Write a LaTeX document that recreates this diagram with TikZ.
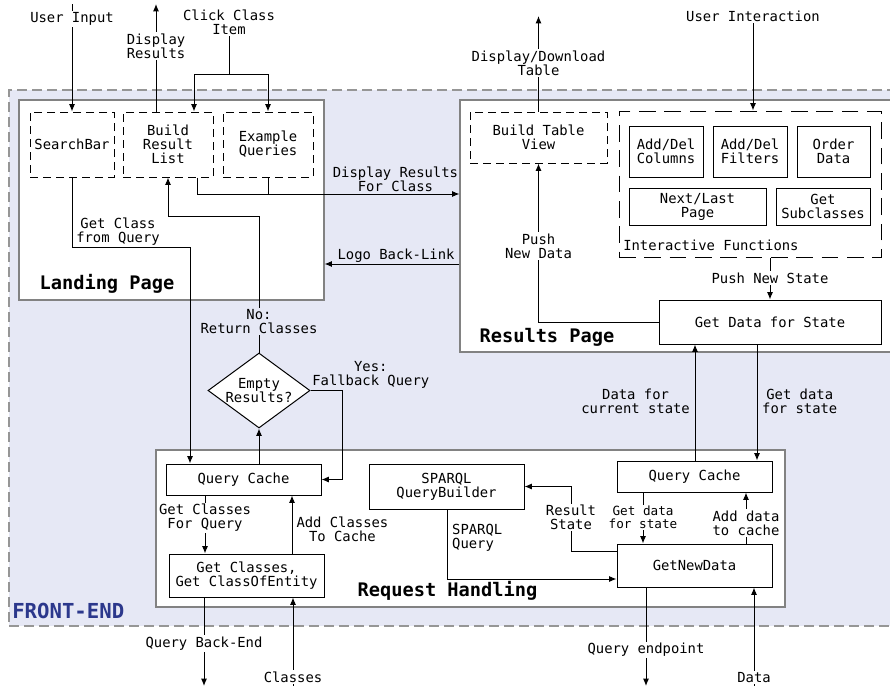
\documentclass[tikz,border=0pt]{standalone}
\usepackage{fontspec}
\setmainfont{DejaVu Sans Mono}
\setmonofont{DejaVu Sans Mono}
\usetikzlibrary{arrows.meta,shapes.geometric}

\definecolor{frontbg}{RGB}{230,232,245}
\definecolor{frontline}{RGB}{150,150,150}
\definecolor{secline}{RGB}{130,130,130}
\definecolor{frontblue}{RGB}{44,56,140}

\tikzset{
  px/.style 2 args={minimum width=#1*0.75pt, minimum height=#2*0.75pt},
  frontend/.style={draw=frontline, fill=frontbg, line width=0.8pt,
    dash pattern=on 7.5pt off 3.75pt, inner sep=0pt},
  section/.style={draw=secline, fill=white, line width=0.8pt, inner sep=0pt},
  box/.style={draw=black, fill=white, line width=0.75pt, inner sep=0pt, align=center},
  dbox/.style={box, dash pattern=on 6pt off 3.75pt},
  wide dbox/.style={box, dash pattern=on 12.5pt off 6.5pt},
  decision/.style={box, shape=diamond, aspect=1.36},
  wire/.style={draw=black, line width=0.75pt},
  conn/.style={wire, -{Latex[length=5.5pt,width=4.5pt]}},
  note/.style={inner sep=1pt, align=center},
  lbl/.style={note, fill=white},
  lblf/.style={note, fill=frontbg},
  title/.style={inner sep=0pt, font=\fontsize{14pt}{16pt}\selectfont\bfseries},
  fetitle/.style={inner sep=0pt, text=frontblue, font=\fontsize{15.5pt}{17pt}\selectfont\bfseries},
  small/.style={font=\fontsize{9.5pt}{10pt}\selectfont},
}

\begin{document}
\begin{tikzpicture}[x=0.75pt, y=-0.75pt, font=\fontsize{10.4pt}{10.5pt}\selectfont]
\useasboundingbox (0,0) rectangle (890,686);

% regions
\node[frontend, px={896}{536}] (frontend) at (457,358) {};
\node[section, px={305}{200}] (landing) at (171.5,200) {};
\node[section, px={440}{252}] (results) at (680,226) {};
\node[section, px={629}{157}] (request) at (470.5,528.5) {};

\node[title] (landingT) at (107,284) {Landing Page};
\node[title] (resultsT) at (547,337) {Results Page};
\node[title] (requestT) at (447.5,591) {Request Handling};
\node[fetitle, anchor=west] (feT) at (12,611) {FRONT-END};

% landing page components
\node[dbox, px={84}{65}] (search) at (72,144.5) {SearchBar};
\node[dbox, px={90}{65}] (build) at (168,144.5) {Build\\Result\\List};
\node[dbox, px={90}{65}] (examples) at (268,144.5) {Example\\Queries};

% results page components
\node[dbox, px={137}{51}] (btv) at (538.5,137.5) {Build Table\\View};
\node[wide dbox, px={262}{146}] (ifun) at (750,184) {};
\node[anchor=west, inner sep=0pt] (ifunT) at (623,245) {Interactive Functions};
\node[box, px={74}{51}] (addcol) at (666,151.5) {Add/Del\\Columns};
\node[box, px={74}{51}] (addfil) at (750,151.5) {Add/Del\\Filters};
\node[box, px={73}{51}] (order) at (833.5,151.5) {Order\\Data};
\node[box, px={137}{37}] (nextlast) at (697.5,206.5) {Next/Last\\Page};
\node[box, px={94}{37}] (getsub) at (823,206.5) {Get\\Subclasses};
\node[box, px={222}{44}] (gdfs) at (770,322) {Get Data for State};

% request handling components
\node[box, px={155}{31}] (qcA) at (243.5,479.5) {Query Cache};
\node[box, px={155}{43}] (getcl) at (246.5,575.5) {Get Classes,\\Get ClassOfEntity};
\node[box, px={155}{45}] (sparql) at (446.5,486.5) {SPARQL\\QueryBuilder};
\node[box, px={155}{31}] (qcB) at (694.5,476.5) {Query Cache};
\node[box, px={155}{43}] (gnd) at (694.5,565.5) {GetNewData};
\node[decision, px={102}{75}] (empty) at (259,390.5) {Empty\\Results?};

% inputs and outputs of the landing page
\coordinate (uiTop) at (72,4);
\draw[conn] (uiTop) -- node[lbl, pos=0.14] {User Input} (search.north);

\coordinate (drTop) at (156,4);
\draw[conn] (build.north -| drTop) -- node[lbl, pos=0.61] {Display\\Results} (drTop);

\node[note] (click) at (229,22) {Click Class\\Item};
\coordinate (clickJ) at (229,74);
\coordinate (clickL) at (194,74);
\draw[wire] (click.south) -- (clickJ);
\draw[conn] (clickJ) -- (clickL) -- (build.north -| clickL);
\draw[conn] (clickJ) -| (examples.north);

\coordinate (drcL) at (197,194);
\draw[wire] (examples.south) -- (examples.south |- drcL);
\draw[conn] (build.south -| drcL) |- node[note, above, pos=0.878] {Display Results\\For Class} (results.west |- drcL);

\coordinate (logoY) at (400,264);
\draw[conn] (results.west |- logoY) -- node[note, above, pos=0.47] {Logo Back-Link} (landing.east |- logoY);

\coordinate (gcq) at (190,247);
\draw[conn] (search.south) |- node[note, above, pos=0.695] {Get Class\\from Query} (gcq) -- (qcA.north -| gcq);

% decision on the cached classes
\coordinate (noY) at (259,216);
\draw[conn] (empty.north) -- node[lblf, pos=0.23] {No:\\Return Classes} (noY) -| (build.south);
\draw[conn] (empty.south |- qcA.north) -- (empty.south);
\coordinate (fbX) at (342,0);
\draw[conn] (empty.east) -- node[note, at start, anchor=south west] {Yes:\\Fallback Query} (empty.east -| fbX) |- (qcA.east);

% class lookup
\coordinate (gcfq) at (205,0);
\draw[conn] (qcA.south -| gcfq) -- node[lbl, pos=0.39] {Get Classes\\For Query} (getcl.north -| gcfq);
\coordinate (acc) at (292,0);
\draw[conn] (getcl.north -| acc) -- node[note, right, inner sep=3pt, pos=0.41] {Add Classes\\To Cache} (qcA.south -| acc);
\coordinate (qbe) at (204,686);
\draw[conn] (getcl.south -| qbe) -- node[lbl, pos=0.52] {Query Back-End} (qbe);
\coordinate (cls) at (293,686);
\draw[conn] (cls) -- node[lbl, pos=0.1] {Classes} (getcl.south -| cls);

% data lookup
\coordinate (rsC) at (571,551);
\draw[conn] (gnd.west |- rsC) -- (rsC) |- node[lbl, pos=0.26] {Result\\State} (sparql.east);
\coordinate (sqX) at (447,579);
\draw[conn] (sparql.south -| sqX) |- node[note, right, inner sep=3.5pt, pos=0.2, align=left] {SPARQL\\Query} (gnd.west |- sqX);
\coordinate (gdsI) at (643,0);
\draw[conn] (qcB.south -| gdsI) -- node[lbl, small, pos=0.49] {Get data\\for state} (gnd.north -| gdsI);
\coordinate (adc) at (746,0);
\draw[conn] (gnd.north -| adc) -- node[lbl, pos=0.4] {Add data\\to cache} (qcB.south -| adc);

\coordinate (dcs) at (695,0);
\draw[conn] (qcB.north -| dcs) -- node[note, left, inner sep=3.5pt, pos=0.51] {Data for\\current state} (gdfs.south -| dcs);
\coordinate (gdso) at (757,0);
\draw[conn] (gdfs.south -| gdso) -- node[note, right, inner sep=3.5pt, pos=0.49] {Get data\\for state} (qcB.north -| gdso);

\coordinate (qe) at (646,686);
\draw[conn] (gnd.south -| qe) -- node[lbl, pos=0.63] {Query endpoint} (qe);
\coordinate (dt) at (754,686);
\draw[conn] (dt) -- node[lbl, pos=0.09] {Data} (gnd.south -| dt);

% results page flow
\coordinate (ddt) at (539,16);
\draw[conn] (btv.north) -- node[lbl, pos=0.51] {Display/Download\\Table} (btv.north |- ddt);
\node[note] (uinter) at (753,16) {User Interaction};
\draw[conn] (uinter.south) -- (ifun.north -| uinter.south);
\draw[conn] (ifun.south -| gdfs.north) -- node[lbl, pos=0.49] {Push New State} (gdfs.north);
\draw[conn] (gdfs.west) -| node[lbl, pos=0.74] {Push\\New Data} (btv.south);

\end{tikzpicture}
\end{document}
